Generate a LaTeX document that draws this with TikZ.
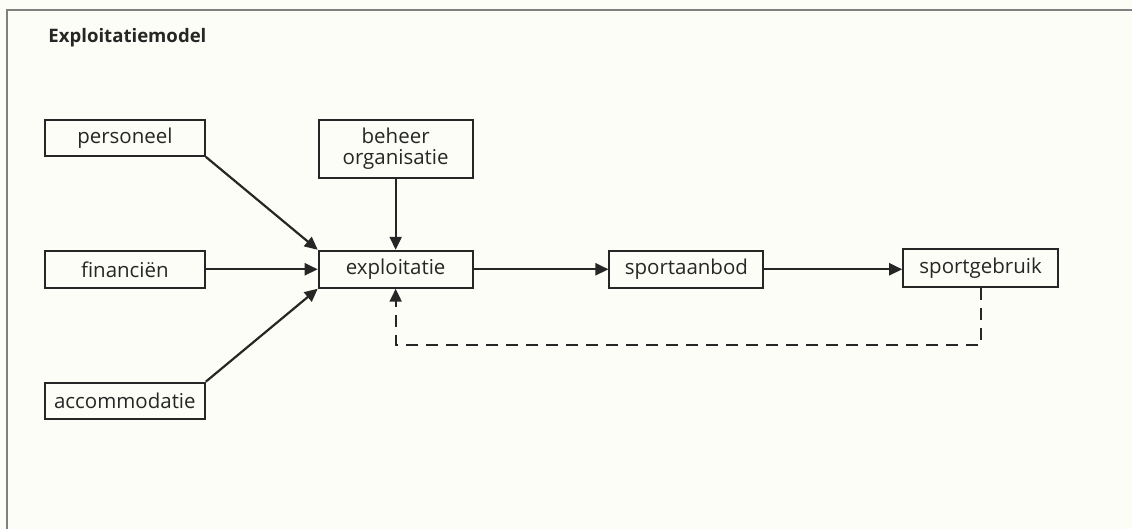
\documentclass[tikz,border=0pt]{standalone}
\usepackage{fontspec}
\setmainfont{Open Sans}
\usetikzlibrary{arrows.meta,positioning,calc}
\definecolor{paper}{HTML}{FDFDF7}
\definecolor{ink}{HTML}{262626}

\tikzset{
    box/.style={draw=ink, line width=2pt, inner sep=0pt, align=center,
        text=ink, font=\fontsize{20.5}{23}\selectfont},
    flow/.style={-{Triangle[length=13pt,width=12pt]}, draw=ink, line width=2.2pt},
    back/.style={flow, dash pattern=on 12pt off 8pt}
}

\begin{document}
\begin{tikzpicture}[x=1pt, y=-1pt]
        % Background and frame
        \fill [paper] (0,0) rectangle (1133,529);
        \draw [gray, line width=2pt] (7,529) -- (7,10) -- (1133,10);
        \node [anchor=base west, text=ink, font=\fontsize{18.6}{21}\selectfont\bfseries]
            (title) at (45,43) {Exploitatiemodel};
        % Inputs
        \node [box, minimum width=160pt, minimum height=36pt] (personeel) at (125,138) {personeel};
        \node [box, minimum width=160pt, minimum height=37pt] (financien) at (125,269.5) {financiën};
        \node [box, minimum width=160pt, minimum height=36pt] (accommodatie) at (125,401) {accommodatie};
        \node [box, minimum width=154pt, minimum height=58pt] (beheer) at (396,149) {beheer\\[-2pt]organisatie};
        % Chain
        \node [box, minimum width=154pt, minimum height=37pt] (exploitatie) at (396,269.5) {exploitatie};
        \node [box, minimum width=154pt, minimum height=37pt] (sportaanbod) at (687,269.5) {sportaanbod};
        \node [box, minimum width=155pt, minimum height=38pt] (sportgebruik) at (981.5,268) {sportgebruik};
        % Arrows
        \draw [flow] (personeel.south east) -- (exploitatie.north west);
        \draw [flow] (financien) -- (exploitatie);
        \draw [flow] (accommodatie.north east) -- (exploitatie.south west);
        \draw [flow] (beheer) -- (exploitatie);
        \draw [flow] (exploitatie) -- (sportaanbod);
        \draw [flow] (sportaanbod) -- (sportgebruik.west |- sportaanbod.east);
        % Feedback
        \coordinate (fb) at ($(sportgebruik.south)+(0,57)$);
        \draw [back] (sportgebruik.south) -- (fb) -| (exploitatie.south);
\end{tikzpicture}
\end{document}
